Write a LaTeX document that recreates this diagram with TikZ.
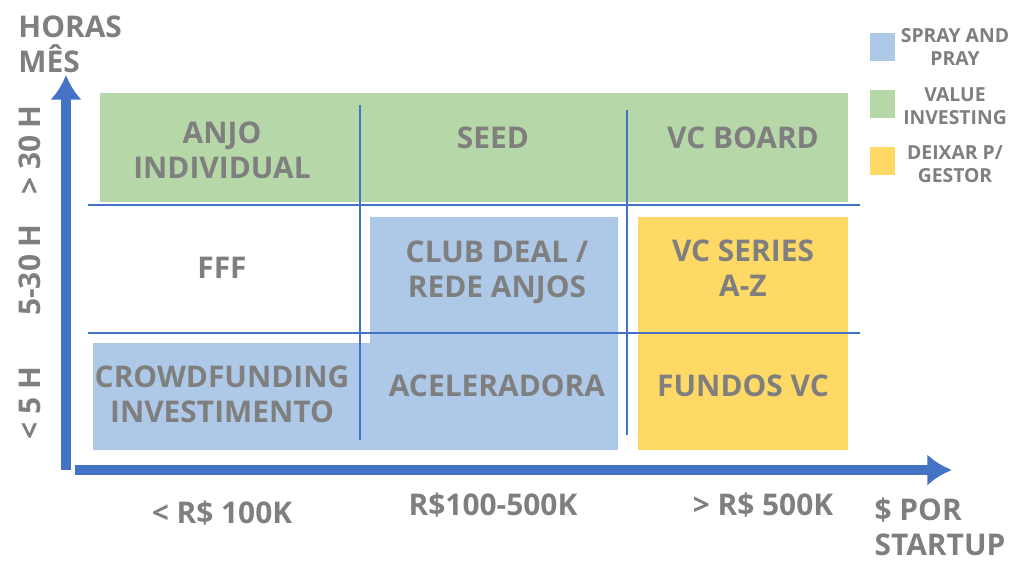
\documentclass[tikz,border=0pt]{standalone}
\usepackage{fontspec}
\setmainfont{Open Sans}
\usetikzlibrary{arrows.meta}
\definecolor{gridblue}{HTML}{4472C4}
\definecolor{cellgreen}{HTML}{B6D7A8}
\definecolor{cellblue}{HTML}{AEC9E8}
\definecolor{cellyellow}{HTML}{FFD966}
\definecolor{txtgray}{HTML}{7F7F7F}
\begin{document}
\begin{tikzpicture}[
  x=0.01cm, y=-0.01cm,
  cell/.style={font=\bfseries\fontsize{8.5}{10}\selectfont, text=txtgray, align=center},
  axislabel/.style={font=\bfseries\fontsize{8.5}{10}\selectfont, text=txtgray, align=left},
  legendtext/.style={font=\bfseries\fontsize{5.5}{6.5}\selectfont, text=txtgray, align=center},
  legendbox/.style={minimum width=0.25cm, minimum height=0.27cm, inner sep=0pt},
  gridline/.style={draw=gridblue, line width=0.5pt},
  axis/.style={draw=gridblue, line width=3pt, -{Latex[length=7pt,width=9pt]}}
]
\useasboundingbox (0,0) rectangle (1024,576);

% --- coloured zones ---
\fill[cellgreen] (100,93) rectangle (848,202);
\fill[cellblue] (93,343) -- (370,343) -- (370,217) -- (618,217) -- (618,450) -- (93,450) -- cycle;
\fill[cellyellow] (638,217) rectangle (848,450);

% --- grid ---
\draw[gridline] (88,205) -- (860,205);
\draw[gridline] (88,333) -- (860,333);
\draw[gridline] (360,105) -- (360,440);
\draw[gridline] (627,110) -- (627,435);

% --- axes ---
\coordinate (O) at (66,470);
\coordinate (ytop) at (66,75);
\coordinate (xend) at (952,470);
\draw[axis] (O) -- (ytop);
\draw[axis] (75,470) -- (xend);

% --- axis labels ---
\node[axislabel, anchor=west] (horas) at (6,44) {HORAS\\MÊS};
\node[axislabel, anchor=center, align=left] (porstartup) at (940,527) {\$ POR\\STARTUP};
\node[cell, rotate=90] (y1) at (30,150) {> 30 H};
\node[cell, rotate=90] (y2) at (30,270) {5-30 H};
\node[cell, rotate=90] (y3) at (30,403) {< 5 H};
\node[cell] (x1) at (222,513) {< R\$ 100K};
\node[cell] (x2) at (493,505) {R\$100-500K};
\node[cell] (x3) at (763,505) {> R\$ 500K};

% --- cells ---
\node[cell] (anjo) at (222,150) {ANJO\\INDIVIDUAL};
\node[cell] (seed) at (493,138) {SEED};
\node[cell] (vcboard) at (743,138) {VC BOARD};
\node[cell] (fff) at (222,268) {FFF};
\node[cell] (club) at (497,272) {CLUB DEAL /\\REDE ANJOS};
\node[cell] (series) at (743,268) {VC SERIES\\A-Z};
\node[cell] (crowd) at (222,394) {CROWDFUNDING\\INVESTIMENTO};
\node[cell] (acel) at (497,386) {ACELERADORA};
\node[cell] (fundos) at (743,386) {FUNDOS VC};

% --- legend ---
\node[legendbox, fill=cellblue] (lg1) at (882,47) {};
\node[legendbox, fill=cellgreen] (lg2) at (882,104) {};
\node[legendbox, fill=cellyellow] (lg3) at (882,161) {};
\node[legendtext] (lt1) at (955,47) {SPRAY AND\\PRAY};
\node[legendtext] (lt2) at (955,106) {VALUE\\INVESTING};
\node[legendtext] (lt3) at (955,164) {DEIXAR P/\\GESTOR};
\end{tikzpicture}
\end{document}
